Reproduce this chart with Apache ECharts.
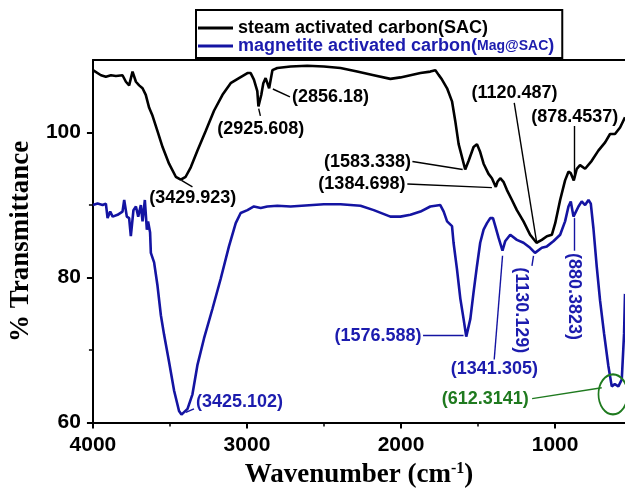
<!DOCTYPE html>
<html>
<head>
<meta charset="utf-8">
<script src="https://cdn.jsdelivr.net/npm/echarts@6/dist/echarts.min.js"></script>
<style>
  html, body { margin: 0; padding: 0; background: #fff; }
  #chart { width: 625px; height: 494px; }
</style>
</head>
<body>
<div id="chart"></div>
<script>
// FTIR spectra: steam activated carbon vs. magnetite activated carbon
const sacWavenumber = [4000,3948,3916,3883,3851,3808,3786,3765,3743,3721,3700,3678,3657,3635,3613,3581,3548,3506,3462,3429.923,3398,3365,3322,3268,3214,3159,3106,3052,2997,2976,2955,2933,2925.608,2907,2894,2879,2856.18,2835,2803,2717,2609,2501,2393,2285,2177,2069,2004,1939,1874,1810,1777,1756,1734,1701,1669,1648,1626,1615,1583.338,1561,1529,1507,1486,1464,1432,1410,1384.698,1374,1356,1335,1313,1280,1248,1205,1162,1120.487,1086,1053,1021,999,967,935,913,898,878.4537,859,838,805,762,719,675,643,611,578,546];
const sacTransmittance = [108.6,107.9,107.7,107.9,107.8,107.9,107.0,106.5,108.4,107.0,106.5,106.1,105.2,103.4,102.3,100.2,98.0,95.7,93.9,93.5,93.9,95.2,97.5,100.2,103.0,105.2,106.8,107.5,108.2,108.2,107.3,105.7,103.6,105.2,106.8,107.5,106.1,108.6,108.9,109.1,109.2,109.1,108.9,108.4,107.9,107.4,107.6,107.9,108.2,108.4,108.6,107.95,107.3,106.1,104.3,101.6,98.4,97.5,94.9,96.1,98.0,98.4,97.3,95.7,94.3,93.7,92.5,93.2,93.7,93.2,92.1,90.7,89.3,87.75,85.9,84.8,85.2,85.7,85.9,87.5,90.7,93.4,94.6,94.4,93.4,95.0,95.5,95.0,96.1,97.5,98.65,99.8,99.8,100.7,102.1];

const magWavenumber = [4000,3970,3937,3916,3905,3888,3872,3840,3808,3797,3780,3765,3754,3737,3721,3706,3689,3678,3663,3650,3642,3629,3624,3603,3581,3559,3538,3506,3473,3441,3425.102,3386,3354,3321,3279,3224,3171,3117,3073,3041,2997,2955,2911,2868,2803,2717,2501,2393,2263,2177,2069,2004,1939,1874,1810,1745,1723,1701,1669,1659,1637,1615,1594,1576.588,1550,1529,1507,1486,1464,1442,1421,1403,1388,1367,1341.305,1324,1291,1248,1205,1162,1130.129,1086,1053,1011,967,935,913,898,880.3823,848,827,805,783,768,751,729,708,682,654,632,612.3141,589,567,552,546];
const magTransmittance = [90.0,90.2,90.0,90.2,88.2,89.1,88.4,88.65,89.1,90.7,88.4,88.2,85.7,89.3,89.8,88.4,90.0,87.75,90.7,86.6,87.75,86.2,83.4,82.1,78.9,74.8,72.1,68.4,64.4,61.6,61.1,61.9,63.9,68.0,71.6,75.7,79.8,84.3,87.5,88.9,89.3,89.8,89.6,89.8,89.9,89.8,90.1,90.1,89.9,89.3,88.4,88.4,88.65,89.1,89.8,90.0,89.1,87.75,87.1,84.8,81.2,77.1,74.3,71.85,74.3,78.0,81.6,84.8,86.6,87.5,88.2,88.2,87.1,85.5,83.7,85.0,85.9,85.2,84.8,84.1,83.4,84.1,84.3,85.0,85.9,87.75,89.8,90.5,88.4,89.8,90.5,90.0,90.7,90.2,86.8,81.4,76.85,72.3,67.8,65.0,65.3,65.0,65.95,72.3,77.75];

// assigned band positions (cm-1)
const sacPeaks = [3429.923, 2925.608, 2856.18, 1583.338, 1384.698, 1120.487, 878.4537];
const magPeaks = [3425.102, 1576.588, 1341.305, 1130.129, 880.3823, 612.3141];

// axis ticks
const xMajorTicks = [4000, 3000, 2000, 1000];
const xMinorTicks = [3500, 2500, 1500];
const yMajorTicks = [60, 80, 100];
const yMinorTicks = [70, 90];

const seriesNames = ['steam activated carbon(SAC)', 'magnetite activated carbon(Mag@SAC)'];

// label layout in data units: [label centre], [leader start], [leader end], rotation
const sacLabelLayout = [
  [[3352, 90.9], [3425, 93.4], [3354, 92.5], 0],
  [[2911, 100.5], [2924, 103.3], [2913, 102.3], 0],
  [[2458, 104.9], [2832, 106.0], [2721, 104.9], 0],
  [[2218, 95.9], [1926, 96.0], [1600, 94.9], 0],
  [[2254, 92.9], [1959, 92.9], [1410, 92.4], 0],
  [[1263, 105.4], [1265, 104.1], [1120.487, 85.0], 0],
  [[872, 102.1], [874, 100.9], [874, 93.7], 0]
];
const magLabelLayout = [
  [[3049, 62.9], [3397, 61.4], [3344, 61.9], 0],
  [[2150, 72.0], [1857, 72.0], [1594, 72.0], 0],
  [[1394, 67.4], [1395, 68.7], [1341, 83.0], 0],
  [[1222, 75.5], [1140, 83.0], [1150, 81.6], -90],
  [[876, 77.4], [874, 88.2], [874, 83.7], -90],
  [[1453, 63.2], [1149, 63.3], [697, 64.8], 0]
];
const ringCentre = [624, 63.9];

const FONT = 'Liberation Sans';
const SERIF = 'Liberation Serif';
const BLACK = '#000000';
const BLUE = '#1414a2';
const BLUE_TEXT = '#1c1cae';
const GREEN = '#1f7a1f';
const highlightPeak = 612.3141;

const zip = (xs, ys) => xs.map((x, i) => [x, ys[i]]);
const peakText = w => '(' + w + ')';

function labelSeries(peaks, layout, textColor, lineColor) {
  return {
    type: 'scatter',
    symbolSize: 1,
    itemStyle: { color: 'rgba(0,0,0,0)', opacity: 1 },
    silent: true,
    z: 5,
    data: peaks.map((w, i) => {
      const c = w === highlightPeak ? GREEN : textColor;
      return {
        value: layout[i][0],
        label: { formatter: peakText(w), rotate: layout[i][3], color: c }
      };
    }),
    label: {
      show: true, position: 'inside', align: 'center', verticalAlign: 'middle', opacity: 1,
      fontFamily: FONT, fontWeight: 'bold', fontSize: 18
    },
    markLine: {
      silent: true, symbol: 'none', animation: false,
      label: { show: false },
      emphasis: { disabled: true },
      data: peaks.map((w, i) => [
        { coord: layout[i][1], lineStyle: { color: w === highlightPeak ? GREEN : lineColor, width: 1.4, type: 'solid', opacity: 1 } },
        { coord: layout[i][2] }
      ])
    }
  };
}

const xBase = { type: 'value', min: 546, max: 4000, inverse: true, splitLine: { show: false } };
const yBase = { type: 'value', min: 60, max: 110, splitLine: { show: false } };
const plainNumber = v => String(v);

const chart = echarts.init(document.getElementById('chart'), null, { renderer: 'canvas' });
chart.setOption({
  animation: false,
  backgroundColor: '#fff',
  grid: { left: 92, right: 0, top: 60, bottom: 67 },
  legend: {
    data: seriesNames,
    orient: 'vertical',
    left: 196, top: 10,
    icon: 'rect', itemWidth: 35, itemHeight: 3, itemGap: 0,
    padding: [9, 8, 3, 2],
    borderColor: '#000', borderWidth: 2, backgroundColor: '#fff',
    selectedMode: false,
    formatter: name => name === seriesNames[0]
      ? '{k|steam activated carbon(SAC)}'
      : '{b|magnetite activated carbon(}{m|Mag@SAC}{b|)}',
    textStyle: {
      fontFamily: FONT, fontWeight: 'bold', fontSize: 18,
      rich: {
        k: { color: BLACK, fontFamily: FONT, fontWeight: 'bold', fontSize: 18, lineHeight: 18 },
        b: { color: BLUE_TEXT, fontFamily: FONT, fontWeight: 'bold', fontSize: 18, lineHeight: 18 },
        m: { color: BLUE_TEXT, fontFamily: FONT, fontWeight: 'bold', fontSize: 14, lineHeight: 18 }
      }
    }
  },
  xAxis: [
    Object.assign({}, xBase, {
      position: 'bottom',
      axisLine: { show: true, lineStyle: { color: '#000', width: 2 } },
      axisTick: { show: true, inside: false, length: 6, lineStyle: { color: '#000', width: 2 }, customValues: xMajorTicks },
      axisLabel: { customValues: xMajorTicks, formatter: plainNumber, color: '#000', fontFamily: FONT, fontWeight: 'bold', fontSize: 21, margin: 12 },
      name: '{a|Wavenumber (cm}{s|-1}{a|)}',
      nameLocation: 'middle', nameGap: 37,
      nameTextStyle: {
        color: '#000', fontFamily: SERIF, fontWeight: 'bold', fontSize: 27,
        rich: {
          a: { fontFamily: SERIF, fontWeight: 'bold', fontSize: 27, lineHeight: 30, color: '#000' },
          s: { fontFamily: SERIF, fontWeight: 'bold', fontSize: 16, lineHeight: 16, verticalAlign: 'top', color: '#000' }
        }
      }
    }),
    Object.assign({}, xBase, {
      position: 'bottom',
      axisLine: { show: false },
      axisTick: { show: true, inside: false, length: 4, lineStyle: { color: '#000', width: 1.5 }, customValues: xMinorTicks },
      axisLabel: { show: false }
    }),
    Object.assign({}, xBase, {
      position: 'top',
      axisLine: { show: true, lineStyle: { color: '#000', width: 2 } },
      axisTick: { show: false },
      axisLabel: { show: false }
    })
  ],
  yAxis: [
    Object.assign({}, yBase, {
      position: 'left',
      axisLine: { show: true, lineStyle: { color: '#000', width: 2 } },
      axisTick: { show: true, inside: false, length: 6, lineStyle: { color: '#000', width: 2 }, customValues: yMajorTicks },
      axisLabel: { customValues: yMajorTicks, formatter: plainNumber, color: '#000', fontFamily: FONT, fontWeight: 'bold', fontSize: 21, margin: 12 },
      name: '% Transmittance',
      nameLocation: 'middle', nameGap: 55, nameRotate: 90,
      nameTextStyle: { color: '#000', fontFamily: SERIF, fontWeight: 'bold', fontSize: 27 }
    }),
    Object.assign({}, yBase, {
      position: 'left',
      axisLine: { show: false },
      axisTick: { show: true, inside: false, length: 4, lineStyle: { color: '#000', width: 1.5 }, customValues: yMinorTicks },
      axisLabel: { show: false }
    })
  ],
  series: [
    {
      name: seriesNames[0], type: 'line', symbol: 'none', showSymbol: false,
      data: zip(sacWavenumber, sacTransmittance),
      lineStyle: { color: BLACK, width: 2.6 }, itemStyle: { color: BLACK }, z: 3
    },
    {
      name: seriesNames[1], type: 'line', symbol: 'none', showSymbol: false,
      data: zip(magWavenumber, magTransmittance),
      lineStyle: { color: BLUE, width: 2.6 }, itemStyle: { color: BLUE }, z: 4
    },
    labelSeries(sacPeaks, sacLabelLayout, BLACK, BLACK),
    labelSeries(magPeaks, magLabelLayout, BLUE_TEXT, BLUE),
    {
      type: 'scatter', silent: true, z: 6,
      symbol: 'circle', symbolSize: [29, 40],
      itemStyle: { color: 'rgba(0,0,0,0)', borderColor: GREEN, borderWidth: 2, opacity: 1 },
      data: [ringCentre]
    }
  ]
});
</script>
</body>
</html>
